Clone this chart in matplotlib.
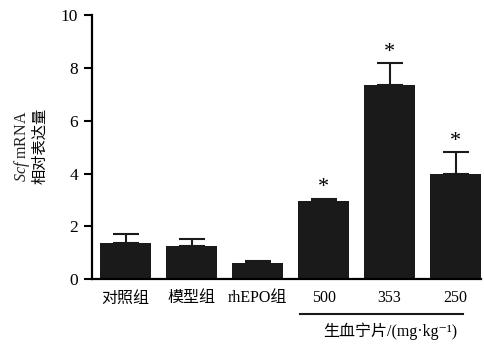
import numpy as np
import matplotlib.pyplot as plt

plt.rcParams['font.family'] = ['Liberation Serif', 'Noto Sans CJK SC', 'DejaVu Serif']
plt.rcParams['mathtext.fontset'] = 'custom'
plt.rcParams['mathtext.it'] = 'Liberation Serif:italic'
plt.rcParams['mathtext.rm'] = 'Liberation Serif'

groups = ['对照组', '模型组', 'rhEPO组', '500', '353', '250']
values = [1.36, 1.26, 0.63, 2.98, 7.36, 4.0]
errors = [0.34, 0.26, 0.07, 0.07, 0.82, 0.8]
marks = ['', '', '', '*', '*', '*']

fig = plt.figure(figsize=(4.85, 3.45), dpi=100)
ax = fig.add_axes([92 / 485, 1 - 279.3 / 345, (481 - 92) / 485, (279.3 - 15) / 345])

x = np.arange(len(groups))
ax.bar(x, values, width=0.77, color='#1a1a1a')
ax.errorbar(x, values, yerr=[np.zeros(len(errors)), errors], fmt='none',
            ecolor='#1a1a1a', elinewidth=1.5, capsize=9.5, capthick=1.5)
for xi, v, e, m in zip(x, values, errors, marks):
    if m:
        ax.text(xi, v + e + 0.05, m, ha='center', va='bottom', fontsize=16)

ax.set_xlim(-0.51, 5.385)
ax.set_ylim(0, 10)
ax.set_yticks([0, 2, 4, 6, 8, 10])
ax.set_xticks(x)
ax.set_xticklabels(groups, fontsize=11.5)
ax.tick_params(axis='x', length=0, pad=8)
ax.tick_params(axis='y', direction='out', length=6, width=1.5, labelsize=12.5, pad=4)
for s in ['top', 'right']:
    ax.spines[s].set_visible(False)
for s in ['left', 'bottom']:
    ax.spines[s].set_linewidth(1.6)

fig.text(22 / 485, 1 - 146 / 345, r'$\mathit{Scf}$ mRNA', rotation=90,
         ha='center', va='center', fontsize=11.5, color='#222222')
fig.text(40 / 485, 1 - 146 / 345, '相对表达量', rotation=90,
         ha='center', va='center', fontsize=11)

fig.add_artist(plt.Line2D([300 / 485, 463 / 485], [1 - 314 / 345, 1 - 314 / 345],
                          color='#1a1a1a', lw=1.5))
fig.text(390 / 485, 1 - 331 / 345, '生血宁片/(mg·kg⁻¹)', ha='center', va='center',
         fontsize=11.5)

fig.savefig('out.png', dpi=100)
